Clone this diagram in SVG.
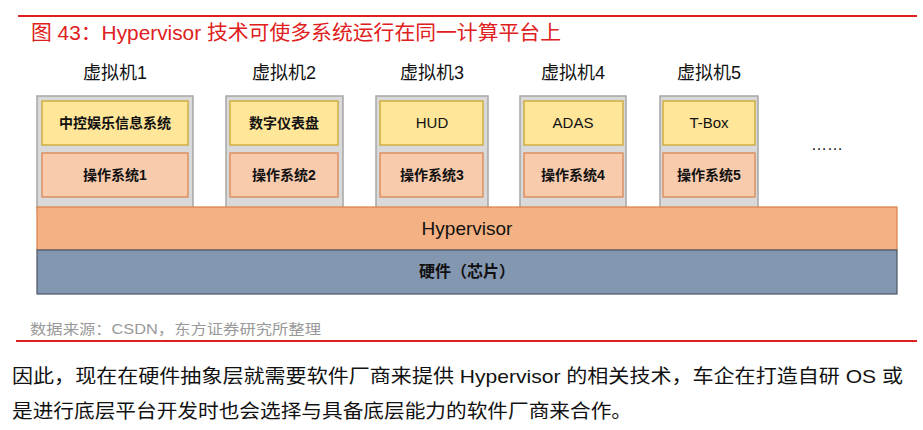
<svg xmlns="http://www.w3.org/2000/svg" width="923" height="430" viewBox="0 0 923 430">
<style>
text{font-family:"Liberation Sans","Noto Sans CJK SC",sans-serif}
.vm{fill:#d9d9d9;stroke:#a6a6a6;stroke-width:1.5}
.app{fill:#ffe699;stroke:#c9a227;stroke-width:1.2}
.os{fill:#f8cbad;stroke:#d9804a;stroke-width:1.2}
.lbl{font-size:18px;fill:#111;text-anchor:middle}
.t{font-size:14px;fill:#111;text-anchor:middle;font-weight:bold}
.n{font-size:15px;fill:#111;text-anchor:middle}
</style>
<rect width="923" height="430" fill="#fff"/>
<line x1="18" y1="16" x2="917" y2="16" stroke="#e02020" stroke-width="2"/>
<text x="31" y="40" font-size="20" fill="#e02020" textLength="530" lengthAdjust="spacingAndGlyphs">图 43：Hypervisor 技术可使多系统运行在同一计算平台上</text>
<g id="vm1"><text class="lbl" x="115" y="79">虚拟机1</text><rect class="vm" x="37" y="96" width="156" height="112"/><rect class="app" x="42" y="101" width="146" height="44"/><text class="t" x="115" y="128">中控娱乐信息系统</text><rect class="os" x="42" y="153" width="146" height="44"/><text class="t" x="115" y="180">操作系统1</text></g>
<g id="vm2"><text class="lbl" x="284" y="79">虚拟机2</text><rect class="vm" x="226" y="96" width="117" height="112"/><rect class="app" x="230" y="101" width="108" height="44"/><text class="t" x="284" y="128">数字仪表盘</text><rect class="os" x="230" y="153" width="108" height="44"/><text class="t" x="284" y="180">操作系统2</text></g>
<g id="vm3"><text class="lbl" x="432" y="79">虚拟机3</text><rect class="vm" x="376" y="96" width="112" height="112"/><rect class="app" x="380" y="101" width="103" height="44"/><text class="n" x="432" y="128">HUD</text><rect class="os" x="380" y="153" width="103" height="44"/><text class="t" x="432" y="180">操作系统3</text></g>
<g id="vm4"><text class="lbl" x="573" y="79">虚拟机4</text><rect class="vm" x="520" y="96" width="106" height="112"/><rect class="app" x="524" y="101" width="99" height="44"/><text class="n" x="573" y="128">ADAS</text><rect class="os" x="524" y="153" width="99" height="44"/><text class="t" x="573" y="180">操作系统4</text></g>
<g id="vm5"><text class="lbl" x="709" y="79">虚拟机5</text><rect class="vm" x="660" y="96" width="98" height="112"/><rect class="app" x="663" y="101" width="92" height="44"/><text class="n" x="709" y="128">T-Box</text><rect class="os" x="663" y="153" width="92" height="44"/><text class="t" x="709" y="180">操作系统5</text></g>
<text x="827" y="150" font-size="16" text-anchor="middle" fill="#111">……</text>
<g id="hypervisor"><rect x="37" y="207" width="860" height="43" fill="#f4b183" stroke="#d9804a" stroke-width="1.2"/><text x="467" y="235" font-size="19" text-anchor="middle" fill="#111">Hypervisor</text></g>
<g id="hardware"><rect x="37" y="250" width="860" height="44" fill="#8497b0" stroke="#4a5668" stroke-width="1.2"/><text x="467" y="277" font-size="16" text-anchor="middle" fill="#111" font-weight="bold">硬件（芯片）</text></g>
<g id="connectors"/>
<text x="30" y="334" font-size="14" fill="#999" textLength="291" lengthAdjust="spacingAndGlyphs">数据来源：CSDN，东方证券研究所整理</text>
<line x1="16" y1="341" x2="917" y2="341" stroke="#e02020" stroke-width="2"/>
<text x="12" y="383" font-size="19" fill="#111" textLength="891" lengthAdjust="spacingAndGlyphs">因此，现在在硬件抽象层就需要软件厂商来提供 Hypervisor 的相关技术，车企在打造自研 OS 或</text>
<text x="12" y="418" font-size="19" fill="#111" textLength="620" lengthAdjust="spacingAndGlyphs">是进行底层平台开发时也会选择与具备底层能力的软件厂商来合作。</text>
</svg>
